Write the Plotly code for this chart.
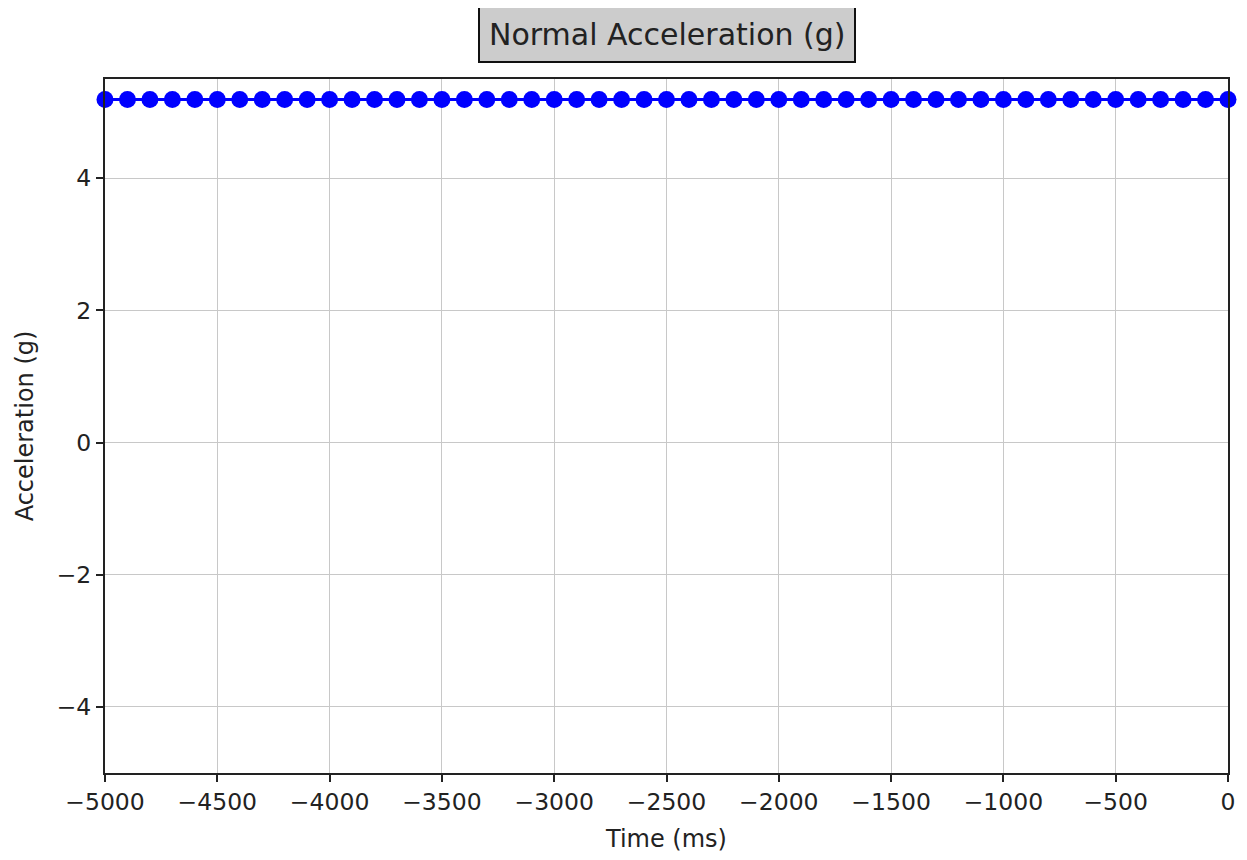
import plotly.graph_objects as go

# Data
time_ms = [-5000, -4900, -4800, -4700, -4600, -4500, -4400, -4300, -4200, -4100,
           -4000, -3900, -3800, -3700, -3600, -3500, -3400, -3300, -3200, -3100,
           -3000, -2900, -2800, -2700, -2600, -2500, -2400, -2300, -2200, -2100,
           -2000, -1900, -1800, -1700, -1600, -1500, -1400, -1300, -1200, -1100,
           -1000, -900, -800, -700, -600, -500, -400, -300, -200, -100, 0]
accel_g = [5.19] * len(time_ms)

x_ticks = [-5000, -4500, -4000, -3500, -3000, -2500, -2000, -1500, -1000, -500, 0]
y_ticks = [-4, -2, 0, 2, 4]

FONT = "DejaVu Sans"

fig = go.Figure()
fig.add_trace(go.Scatter(
    x=time_ms, y=accel_g, mode="lines+markers",
    line=dict(color="#0000ff", width=3),
    marker=dict(color="#0000ff", size=17),
    cliponaxis=False, showlegend=False,
))

axis_common = dict(
    showline=True, linecolor="#222222", linewidth=2, mirror=True,
    ticks="outside", ticklen=7, tickwidth=2, tickcolor="#222222",
    showgrid=True, gridcolor="#c8c8c8", gridwidth=1.3,
    zeroline=False,
    tickfont=dict(family=FONT, size=23.5, color="#222222"),
)

# the page body has an 8px margin, so the figure is offset by 8px
fig.update_layout(
    width=1239, height=852,
    paper_bgcolor="white", plot_bgcolor="white",
    margin=dict(l=97, r=19, t=71, b=82),
    font=dict(family=FONT, color="#222222"),
    xaxis=dict(range=[-5000, 0], tickvals=x_ticks,
               title=dict(text="Time (ms)", font=dict(family=FONT, size=24), standoff=15),
               **axis_common),
    yaxis=dict(range=[-5, 5.5], tickvals=y_ticks,
               title=dict(text="Acceleration (g)", font=dict(family=FONT, size=24), standoff=16),
               **axis_common),
    annotations=[dict(
        text="Normal Acceleration (g)", xref="paper", yref="paper",
        x=0.5, y=1, yshift=45, xanchor="center", yanchor="middle",
        showarrow=False, font=dict(family=FONT, size=30, color="#222222"),
        bgcolor="#cccccc", bordercolor="#111111", borderwidth=2, borderpad=9,
    )],
)

fig.write_html("out.html")
